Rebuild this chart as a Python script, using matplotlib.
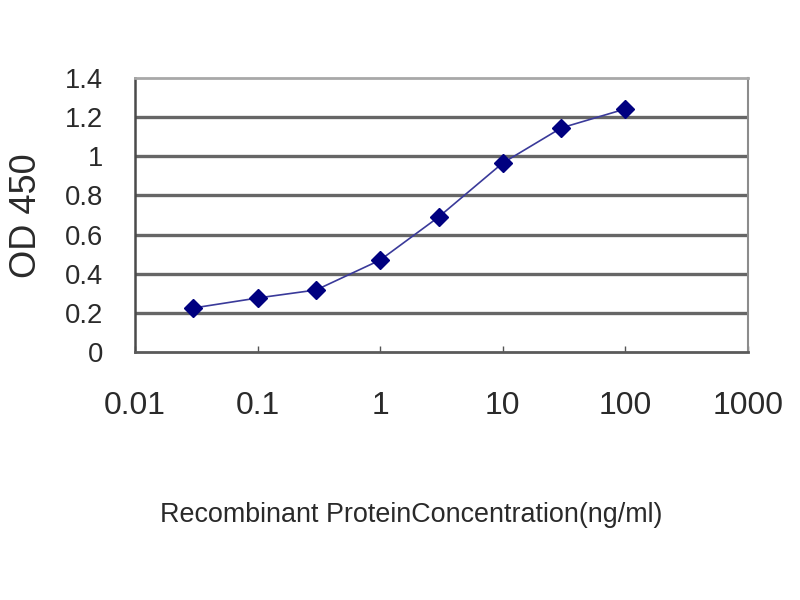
import matplotlib
matplotlib.use("Agg")
import matplotlib.pyplot as plt

concentration = [0.03, 0.1, 0.3, 1, 3, 10, 30, 100]
od450 = [0.225, 0.276, 0.317, 0.47, 0.69, 0.966, 1.145, 1.242]
xticks = [0.01, 0.1, 1, 10, 100, 1000]
xticklabels = ["0.01", "0.1", "1", "10", "100", "1000"]
yticks = [0, 0.2, 0.4, 0.6, 0.8, 1.0, 1.2, 1.4]
yticklabels = ["0", "0.2", "0.4", "0.6", "0.8", "1", "1.2", "1.4"]

font = ["Liberation Sans", "DejaVu Sans"]
txt_color = "#2a2a2a"

fig = plt.figure(figsize=(8, 6), dpi=100)
ax = fig.add_axes([0.16875, 0.4133, 0.935 - 0.16875, 0.87 - 0.4133])

ax.set_xscale("log")
ax.set_xlim(0.01, 1000)
ax.set_ylim(0, 1.4)

for y in yticks[1:-1]:
    ax.axhline(y, color="#666666", linewidth=2.4, zorder=1)

ax.plot(concentration, od450, color="#3a3a9a", linewidth=1.2, zorder=3)
ax.plot(concentration, od450, linestyle="none", marker="D", markersize=9,
        markerfacecolor="#000080", markeredgecolor="#000080", zorder=4)

ax.set_xticks(xticks)
ax.set_xticklabels(xticklabels, family=font, fontsize=23, color=txt_color)
ax.minorticks_off()
ax.set_yticks(yticks)
ax.set_yticklabels(yticklabels, family=font, fontsize=19.7, color=txt_color)
ax.tick_params(axis="x", direction="in", length=4, width=1, color="#555555", pad=28)
ax.tick_params(axis="y", length=0, pad=23)

ax.spines["top"].set_color("#a8a8a8")
ax.spines["top"].set_linewidth(2)
ax.spines["right"].set_color("#8c8c8c")
ax.spines["right"].set_linewidth(1.5)
ax.spines["left"].set_color("#4a4a4a")
ax.spines["left"].set_linewidth(1.8)
ax.spines["bottom"].set_color("#5a5a5a")
ax.spines["bottom"].set_linewidth(2)

fig.text(27 / 800, 1 - 216 / 600, "OD 450", rotation=90, ha="center", va="center",
         family=font, fontsize=26, color=txt_color)
fig.text(411 / 800, 1 - 515 / 600, "Recombinant ProteinConcentration(ng/ml)",
         ha="center", va="center", family=font, fontsize=19.4, color=txt_color)

fig.savefig("out.png", dpi=100, facecolor="white")
